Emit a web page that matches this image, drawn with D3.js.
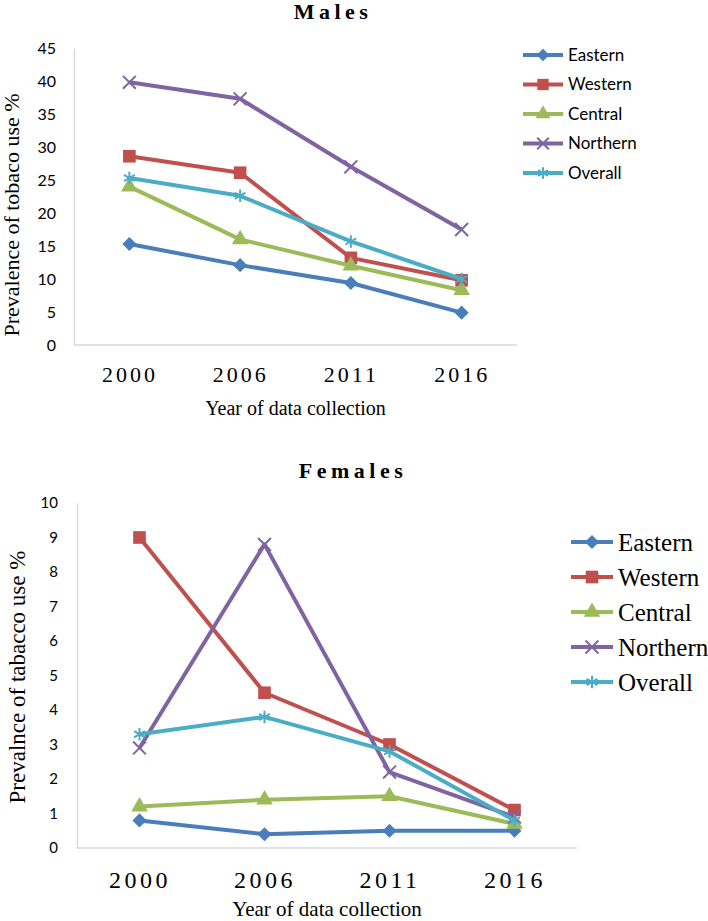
<!DOCTYPE html>
<html>
<head>
<meta charset="utf-8">
<script src="https://cdn.jsdelivr.net/npm/d3@7"></script>
<style>
  body { margin: 0; background: #fff; }
  svg { display: block; }
</style>
</head>
<body>
<svg id="chart" width="708" height="921"></svg>
<script>
const years = ["2000", "2006", "2011", "2016"];
const regions = ["Eastern", "Western", "Central", "Northern", "Overall"];
const colors = ["#4A7EBB", "#C0504D", "#9BBB59", "#8064A2", "#4BACC6"];

// males, % by year
const malesEastern  = [15.3, 12.1, 9.4, 4.9];
const malesWestern  = [28.6, 26.1, 13.2, 9.8];
const malesCentral  = [24.0, 16.0, 12.0, 8.3];
const malesNorthern = [39.8, 37.3, 27.0, 17.5];
const malesOverall  = [25.3, 22.6, 15.7, 10.0];
const malesTicks = [0, 5, 10, 15, 20, 25, 30, 35, 40, 45];

// females, % by year
const femalesEastern  = [0.8, 0.4, 0.5, 0.5];
const femalesWestern  = [9.0, 4.5, 3.0, 1.1];
const femalesCentral  = [1.2, 1.4, 1.5, 0.7];
const femalesNorthern = [2.9, 8.8, 2.2, 0.9];
const femalesOverall  = [3.3, 3.8, 2.8, 0.8];
const femalesTicks = [0, 1, 2, 3, 4, 5, 6, 7, 8, 9, 10];

const svg = d3.select("#chart");

// marker per series: [symbol, size, filled, rotate]
const markers = [
  [d3.symbolSquare, 100, true, 45],
  [d3.symbolSquare, 160, true, 0],
  [d3.symbolTriangle, 120, true, 0],
  [d3.symbolTimes, 110, false, 0],
  [d3.symbolAsterisk, 110, false, 0]
];

function drawMarker(g, i, x, y, scale) {
  const [type, size, filled, rot] = markers[i];
  g.append("path")
    .attr("d", d3.symbol().type(type).size(size * scale * scale)())
    .attr("transform", `translate(${x},${y}) rotate(${rot})`)
    .attr("fill", filled ? colors[i] : "none")
    .attr("stroke", colors[i])
    .attr("stroke-width", filled ? 0 : 2);
}

function drawPanel(opts) {
  const g = svg.append("g");
  const series = opts.series;

  const x = d3.scalePoint().domain(years).range(opts.xRange).padding(0.5);
  const y = d3.scaleLinear().domain(opts.yDomain).range(opts.yRange);

  // y axis
  const yAxis = g.append("g")
    .attr("transform", `translate(${opts.xRange[0]},0)`)
    .call(d3.axisLeft(y).tickValues(opts.ticks).tickSize(0).tickPadding(opts.yPad));
  yAxis.select(".domain").attr("stroke", "#d9d9d9").attr("stroke-width", 1.5);
  yAxis.selectAll("text")
    .attr("font-family", "Lato, 'Open Sans', sans-serif")
    .attr("font-size", opts.yTickSize)
    .attr("fill", "#000");

  // x axis
  const xAxis = g.append("g")
    .attr("transform", `translate(0,${opts.yRange[0]})`)
    .call(d3.axisBottom(x).tickSize(0).tickSizeOuter(0));
  xAxis.select(".domain")
    .attr("d", `M${opts.xRange[0]},0H${opts.xRange[1]}`)
    .attr("stroke", "#d9d9d9").attr("stroke-width", 1.5);
  xAxis.selectAll("text")
    .attr("y", opts.xLabelY - opts.yRange[0])
    .attr("dy", null)
    .attr("font-family", "'Liberation Serif', 'Times New Roman', serif")
    .attr("font-size", opts.xTickSize)
    .attr("letter-spacing", opts.xTickSpacing)
    .attr("fill", "#000");

  // lines
  const line = d3.line().x((d, i) => x(years[i])).y(d => y(d));
  series.forEach((vals, i) => {
    g.append("path")
      .datum(vals)
      .attr("d", line)
      .attr("fill", "none")
      .attr("stroke", colors[i])
      .attr("stroke-width", 4)
      .attr("stroke-linejoin", "round");
    vals.forEach((v, j) => drawMarker(g, i, x(years[j]), y(v), 1));
  });

  // title
  g.append("text")
    .attr("x", opts.titleX)
    .attr("y", opts.titleY)
    .attr("text-anchor", "middle")
    .attr("font-family", "'Liberation Serif', 'Times New Roman', serif")
    .attr("font-weight", "bold")
    .attr("font-size", 22)
    .attr("letter-spacing", 4.5)
    .text(opts.title);

  // axis titles
  g.append("text")
    .attr("x", (opts.xRange[0] + opts.xRange[1]) / 2)
    .attr("y", opts.xTitleY)
    .attr("text-anchor", "middle")
    .attr("font-family", "'Liberation Serif', 'Times New Roman', serif")
    .attr("font-size", opts.xTitleSize)
    .text("Year of data collection");

  g.append("text")
    .attr("transform", `translate(${opts.yTitleX},${opts.yTitleY}) rotate(-90)`)
    .attr("text-anchor", "middle")
    .attr("font-family", "'Liberation Serif', 'Times New Roman', serif")
    .attr("font-size", opts.yTitleSize)
    .text(opts.yTitle);

  // legend
  const lg = g.append("g").attr("transform", `translate(${opts.legendX},${opts.legendY})`);
  regions.forEach((name, i) => {
    const row = lg.append("g").attr("transform", `translate(0,${i * opts.legendStep})`);
    row.append("line")
      .attr("x1", 0).attr("x2", opts.legendLine)
      .attr("stroke", colors[i]).attr("stroke-width", 4);
    drawMarker(row, i, opts.legendLine / 2, 0, opts.legendMarker);
    row.append("text")
      .attr("x", opts.legendLine + 5)
      .attr("dy", "0.35em")
      .attr("font-family", opts.legendFont)
      .attr("font-size", opts.legendSize)
      .text(name);
  });
}

drawPanel({
  series: [malesEastern, malesWestern, malesCentral, malesNorthern, malesOverall],
  ticks: malesTicks,
  yDomain: [0, 45],
  xRange: [74, 517],
  yRange: [345, 48],
  yPad: 18,
  yTickSize: 16,
  xLabelY: 382,
  xTickSize: 22,
  xTickSpacing: 3,
  title: "Males",
  titleX: 333,
  titleY: 19,
  xTitleY: 415,
  xTitleSize: 20,
  yTitle: "Prevalence of tobaco use %",
  yTitleX: 19,
  yTitleY: 215,
  yTitleSize: 22,
  legendX: 523,
  legendY: 55,
  legendStep: 29.5,
  legendLine: 40,
  legendMarker: 0.9,
  legendFont: "Lato, 'Open Sans', sans-serif",
  legendSize: 17
});

drawPanel({
  series: [femalesEastern, femalesWestern, femalesCentral, femalesNorthern, femalesOverall],
  ticks: femalesTicks,
  yDomain: [0, 10],
  xRange: [77, 577],
  yRange: [848, 503],
  yPad: 19,
  yTickSize: 15,
  xLabelY: 888,
  xTickSize: 24,
  xTickSpacing: 3.5,
  title: "Females",
  titleX: 353,
  titleY: 478,
  xTitleY: 916,
  xTitleSize: 21,
  yTitle: "Prevalnce of tabacco use %",
  yTitleX: 25,
  yTitleY: 677,
  yTitleSize: 23,
  legendX: 571,
  legendY: 542,
  legendStep: 35,
  legendLine: 42,
  legendMarker: 1,
  legendFont: "'Liberation Serif', 'Times New Roman', serif",
  legendSize: 25
});
</script>
</body>
</html>
